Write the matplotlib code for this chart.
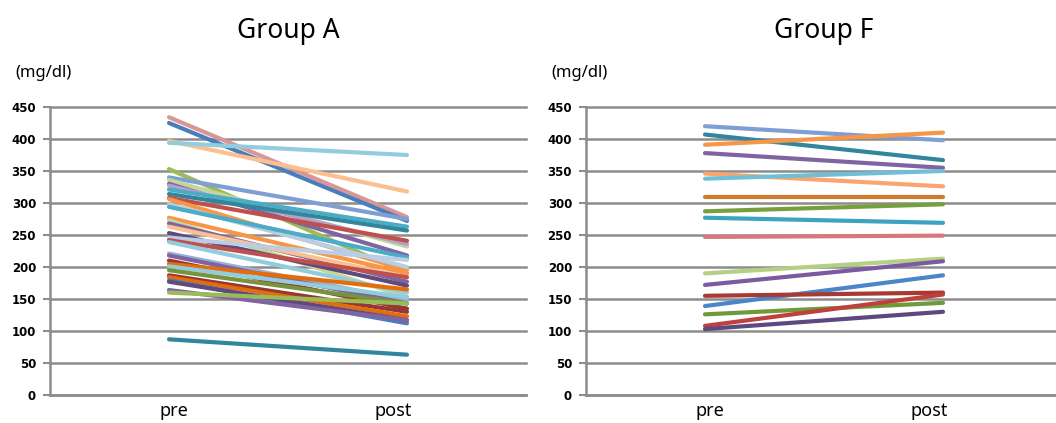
import matplotlib
matplotlib.use("Agg")
import matplotlib.pyplot as plt

plt.rcParams['font.family'] = ['Noto Sans', 'DejaVu Sans']

categories = ["pre", "post"]
yticks = [0, 50, 100, 150, 200, 250, 300, 350, 400, 450]

# Group A: (pre, post) per subject
group_a_pre = [434, 425, 397, 394, 353, 340, 336, 330, 327, 321, 314, 308,
               306, 298, 294, 277, 273, 268, 263, 253, 246, 242, 239, 221,
               218, 210, 205, 201, 195, 187, 184, 179, 177, 164, 160, 87]
group_a_post = [278, 272, 318, 375, 190, 275, 232, 218, 236, 263, 257, 241,
                195, 200, 215, 190, 153, 177, 184, 171, 211, 184, 160, 148,
                143, 135, 165, 153, 143, 130, 123, 112, 117, 117, 143, 63]
group_a_colors = ["#D99694", "#4A7EBB", "#FAC090", "#93CDDD", "#9BBB59",
                  "#7F9FD3", "#C3D69B", "#8064A2", "#B3A2C7", "#4BACC6",
                  "#31859C", "#C0504D", "#F79646", "#B9CDE5", "#4BACC6",
                  "#F79646", "#C3D69B", "#8064A2", "#FAC090", "#604A7B",
                  "#B9CDE5", "#C0504D", "#93CDDD", "#95B3D7", "#8064A2",
                  "#953735", "#E46C0A", "#92CDDC", "#77933C", "#953735",
                  "#E46C0A", "#4A7EBB", "#604A7B", "#8064A2", "#9BBB59",
                  "#31859C"]

# Group F
group_f_pre = [420, 407, 391, 378, 346, 338, 310, 287, 277, 247, 190, 172,
               139, 155, 126, 108, 103]
group_f_post = [398, 367, 410, 355, 326, 350, 310, 298, 269, 249, 213, 209,
                187, 160, 144, 157, 130]
group_f_colors = ["#7F9FD3", "#31859C", "#F79646", "#8064A2", "#FAA56E",
                  "#6FC0D6", "#D07A2E", "#77A03C", "#3BA3C0", "#D9787A",
                  "#B5CF85", "#7A5AA0", "#4A86C8", "#A83A36", "#6E9A3A",
                  "#C0403D", "#5E4880"]

fig = plt.figure(figsize=(10.56, 4.23), dpi=100)

W, H = 1056, 423
panels = [
    ("Group A", 50, group_a_pre, group_a_post, group_a_colors),
    ("Group F", 586, group_f_pre, group_f_post, group_f_colors),
]

for title, left_px, pre, post, colors in panels:
    width_px = 476
    ax = fig.add_axes([left_px / W, 1 - 395 / H, width_px / W, 288 / H])
    for p, q, c in zip(pre, post, colors):
        ax.plot([0, 1], [p, q], color=c, lw=3.0, solid_capstyle='round')
    ax.set_xlim(-0.5, 1.5)
    ax.set_ylim(0, 450)
    ax.set_yticks(yticks)
    ax.set_yticklabels([str(t) for t in yticks], fontsize=8.5, fontweight='bold',
                       family='DejaVu Sans')
    ax.set_xticks([0.02, 0.94])
    ax.set_xticklabels(categories, fontsize=13)
    ax.tick_params(axis='x', length=0, pad=5)
    ax.tick_params(axis='y', length=5, width=1.5, color="#8C8C8C", pad=5)
    ax.yaxis.grid(True, color="#8C8C8C", lw=1.8)
    ax.set_axisbelow(True)
    for gl in ax.get_ygridlines():
        gl.set_clip_on(False)
    for s in ["top", "right"]:
        ax.spines[s].set_visible(False)
    for s in ["left", "bottom"]:
        ax.spines[s].set_color("#8C8C8C")
        ax.spines[s].set_linewidth(1.8)

    cx = (left_px + width_px / 2) / W
    fig.text(cx, 1 - 31 / H, title, ha='center', va='center', fontsize=19)
    fig.text((left_px - 35) / W, 1 - 73 / H, "(mg/dl)", ha='left', va='center',
             fontsize=12, fontweight='semibold')

fig.savefig("out.png", dpi=100)
